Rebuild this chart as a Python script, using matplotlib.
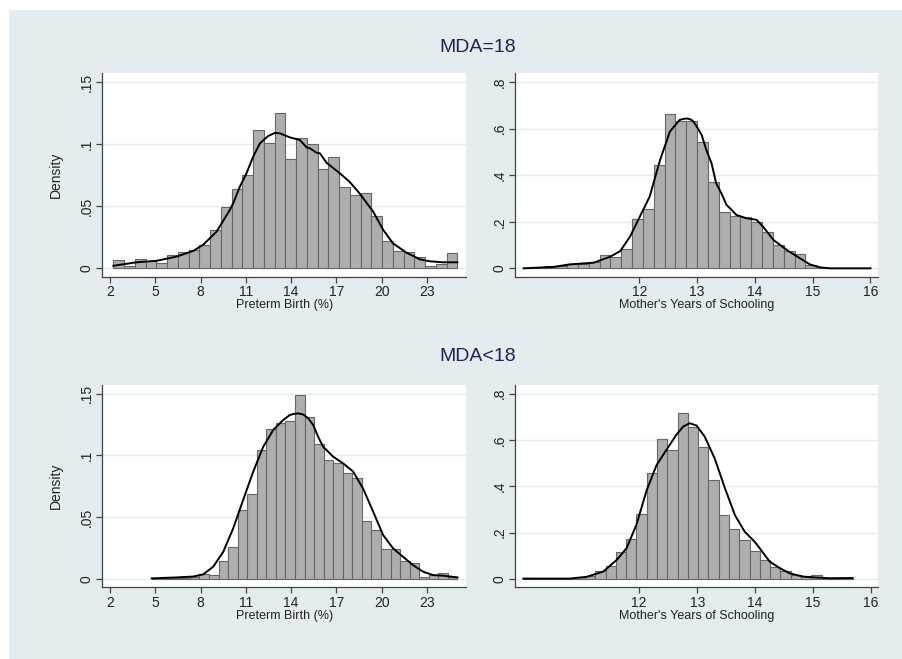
import matplotlib
matplotlib.use("Agg")
import matplotlib.pyplot as plt
import numpy as np

plt.rcParams['font.family'] = ['Liberation Sans', 'DejaVu Sans']

# ---- data ----
# MDA=18, preterm birth (%): 32 bins from 2.22 to 25.01
pb18_range = (2.22, 25.01)
pb18_heights = [0.0067, 0.002, 0.0072, 0.006, 0.004, 0.011, 0.013, 0.015,
                0.0185, 0.031, 0.049, 0.064, 0.075, 0.111, 0.1006, 0.125,
                0.0877, 0.105, 0.100, 0.080, 0.0893, 0.0655, 0.059, 0.061,
                0.042, 0.0217, 0.014, 0.013, 0.009, 0.002, 0.0035, 0.012]
pb18_kde_x = [2.22, 3.76, 5.09, 6.41, 7.52, 8.18, 9.06, 9.94, 10.16, 10.60,
              10.82, 11.04, 11.49, 11.93, 12.15, 12.48, 12.92, 13.25, 13.69,
              13.91, 14.35, 14.57, 15.02, 15.24, 15.68, 15.90, 16.34, 17.22,
              17.88, 18.55, 19.43, 20.09, 20.75, 21.63, 22.52, 23.18, 24.06,
              25.01]
pb18_kde_y = [0.002, 0.0048, 0.006, 0.0094, 0.014, 0.019, 0.0295, 0.047,
              0.0523, 0.0657, 0.071, 0.0765, 0.090, 0.1006, 0.103, 0.1065,
              0.109, 0.1087, 0.1065, 0.1054, 0.104, 0.1033, 0.0974, 0.0966,
              0.093, 0.0926, 0.085, 0.0765, 0.0695, 0.060, 0.0456, 0.031,
              0.020, 0.0126, 0.0072, 0.0056, 0.0048, 0.0048]

# MDA=18, mother's years of schooling: 32 bins from 10 to 16
ms18_range = (10.0, 16.0)
ms18_heights = [0.002, 0.003, 0.01, 0.01, 0.02, 0.02, 0.027, 0.059, 0.05,
                0.082, 0.21, 0.256, 0.442, 0.661, 0.633, 0.633, 0.544, 0.371,
                0.240, 0.226, 0.222, 0.197, 0.155, 0.100, 0.073, 0.060, 0.013,
                0.0, 0.0, 0.0, 0.0, 0.003]
ms18_kde_x = [10.0, 10.52, 10.80, 11.21, 11.50, 11.67, 11.84, 12.01, 12.18,
              12.36, 12.53, 12.65, 12.70, 12.76, 12.82, 12.88, 12.93, 12.99,
              13.08, 13.16, 13.25, 13.33, 13.42, 13.51, 13.60, 13.68, 13.85,
              14.03, 14.14, 14.32, 14.55, 14.78, 14.95, 15.13, 15.30, 16.0]
ms18_kde_y = [0.0, 0.006, 0.017, 0.024, 0.05, 0.074, 0.136, 0.222, 0.308,
              0.465, 0.587, 0.623, 0.637, 0.641, 0.643, 0.640, 0.632, 0.610,
              0.572, 0.508, 0.451, 0.365, 0.322, 0.272, 0.250, 0.229, 0.215,
              0.208, 0.179, 0.122, 0.079, 0.043, 0.017, 0.004, 0.0, 0.0]

# MDA<18, preterm birth (%): 32 bins from 4.76 to 25.01
pb17_range = (4.76, 25.01)
pb17_heights = [0.0005, 0.0008, 0.0008, 0.001, 0.002, 0.004, 0.0035, 0.0146,
                0.026, 0.056, 0.069, 0.104, 0.121, 0.1265, 0.128, 0.1486,
                0.131, 0.109, 0.0963, 0.0936, 0.086, 0.0817, 0.0467, 0.040,
                0.0243, 0.024, 0.0143, 0.0127, 0.0016, 0.0035, 0.005, 0.0016]
pb17_kde_x = [4.76, 6.41, 7.52, 8.18, 8.84, 9.50, 10.16, 10.82, 11.49, 12.15,
              12.81, 13.47, 13.91, 14.13, 14.46, 14.79, 15.13, 15.46, 15.79,
              16.12, 16.78, 17.44, 18.10, 18.77, 19.43, 20.09, 20.75, 21.41,
              22.07, 22.74, 23.40, 24.06, 25.01]
pb17_kde_y = [0.0005, 0.0013, 0.002, 0.0038, 0.010, 0.022, 0.041, 0.064,
              0.087, 0.107, 0.1206, 0.1287, 0.1327, 0.1335, 0.134, 0.1332,
              0.130, 0.1246, 0.115, 0.107, 0.099, 0.0936, 0.087, 0.073,
              0.0545, 0.0356, 0.0248, 0.018, 0.0113, 0.0059, 0.0032, 0.0027,
              0.0013]

# MDA<18, mother's years of schooling: 32 bins from 10 to 15.68
ms17_range = (10.0, 15.68)
ms17_heights = [0.003, 0.0, 0.0, 0.0, 0.0, 0.007, 0.011, 0.036, 0.056, 0.117,
                0.173, 0.281, 0.456, 0.603, 0.557, 0.715, 0.655, 0.571, 0.429,
                0.275, 0.214, 0.168, 0.119, 0.081, 0.050, 0.033, 0.016, 0.012,
                0.019, 0.004, 0.004, 0.006]
ms17_kde_x = [10.0, 10.80, 11.09, 11.38, 11.61, 11.78, 11.95, 12.13, 12.30,
              12.47, 12.64, 12.76, 12.87, 12.99, 13.13, 13.30, 13.48, 13.65,
              13.82, 13.99, 14.08, 14.25, 14.43, 14.60, 14.83, 15.06, 15.29,
              15.68]
ms17_kde_y = [0.0015, 0.0015, 0.009, 0.032, 0.082, 0.132, 0.233, 0.384,
              0.492, 0.557, 0.622, 0.658, 0.672, 0.662, 0.614, 0.521, 0.391,
              0.276, 0.204, 0.161, 0.132, 0.075, 0.046, 0.024, 0.010, 0.006,
              0.003, 0.004]

pb_ticks = [2, 5, 8, 11, 14, 17, 20, 23]
ms_ticks = [12, 13, 14, 15, 16]
pb_yticks = [0, 0.05, 0.1, 0.15]
pb_ylabels = ['0', '.05', '.1', '.15']
ms_yticks = [0, 0.2, 0.4, 0.6, 0.8]
ms_ylabels = ['0', '.2', '.4', '.6', '.8']

BG = '#e4ecef'
GRID = '#e3ecef'
BAR = '#aeaeae'
EDGE = '#666666'
TITLE = '#1c2456'

W, H = 903, 659
fig = plt.figure(figsize=(W / 100, H / 100), dpi=100)
fig.patch.set_facecolor('white')
fig.add_artist(plt.Rectangle((9 / W, 0), 1 - 9 / W, 1 - 10 / H,
                             transform=fig.transFigure, facecolor=BG,
                             edgecolor='none', zorder=0))


def px_axes(x0, y0, x1, y1):
    return fig.add_axes([x0 / W, 1 - y1 / H, (x1 - x0) / W, (y1 - y0) / H])


def panel(ax, rng, heights, kx, ky, xlim, ylim, xt, yt, ylab, xlabel, dens):
    edges = np.linspace(rng[0], rng[1], len(heights) + 1)
    ax.bar(edges[:-1], heights, width=np.diff(edges), align='edge',
           color=BAR, edgecolor=EDGE, linewidth=0.8, zorder=2)
    ax.plot(kx, ky, color='black', linewidth=1.4, zorder=3,
            solid_joinstyle='round')
    ax.set_xlim(*xlim)
    ax.set_ylim(*ylim)
    ax.set_xticks(xt)
    ax.set_yticks(yt)
    ax.set_yticklabels(ylab, rotation=90, va='center')
    ax.yaxis.grid(True, color=GRID, linewidth=1.0, zorder=0)
    ax.set_axisbelow(True)
    for s in ('top', 'right'):
        ax.spines[s].set_visible(False)
    for s in ('left', 'bottom'):
        ax.spines[s].set_color('#444444')
        ax.spines[s].set_linewidth(0.9)
    ax.tick_params(axis='both', labelsize=10, color='#444444', length=4,
                   width=0.9, pad=2, labelcolor='#222222')
    ax.set_xlabel(xlabel, fontsize=9, labelpad=0, color='#222222')
    if dens:
        ax.set_ylabel('Density', fontsize=10, labelpad=12, color='#222222')
    ax.set_facecolor('white')


ax1 = px_axes(102.3, 73.3, 466, 276.7)
panel(ax1, pb18_range, pb18_heights, pb18_kde_x, pb18_kde_y,
      (1.49, 25.58), (-0.0068, 0.157), pb_ticks, pb_yticks, pb_ylabels,
      'Preterm Birth (%)', True)

ax2 = px_axes(515, 73.3, 878, 276.7)
panel(ax2, ms18_range, ms18_heights, ms18_kde_x, ms18_kde_y,
      (9.85, 16.13), (-0.036, 0.837), ms_ticks, ms_yticks, ms_ylabels,
      "Mother's Years of Schooling", False)

ax3 = px_axes(102.3, 385, 466, 587.3)
panel(ax3, pb17_range, pb17_heights, pb17_kde_x, pb17_kde_y,
      (1.49, 25.58), (-0.0067, 0.157), pb_ticks, pb_yticks, pb_ylabels,
      'Preterm Birth (%)', True)

ax4 = px_axes(515, 385, 878, 587.3)
panel(ax4, ms17_range, ms17_heights, ms17_kde_x, ms17_kde_y,
      (9.856, 16.12), (-0.036, 0.837), ms_ticks, ms_yticks, ms_ylabels,
      "Mother's Years of Schooling", False)

fig.text(478 / W, 1 - 48 / H, 'MDA=18', ha='center', va='center',
         fontsize=14, color=TITLE)
fig.text(478 / W, 1 - 357 / H, 'MDA<18', ha='center', va='center',
         fontsize=14, color=TITLE)

fig.savefig('out.png', dpi=100)
